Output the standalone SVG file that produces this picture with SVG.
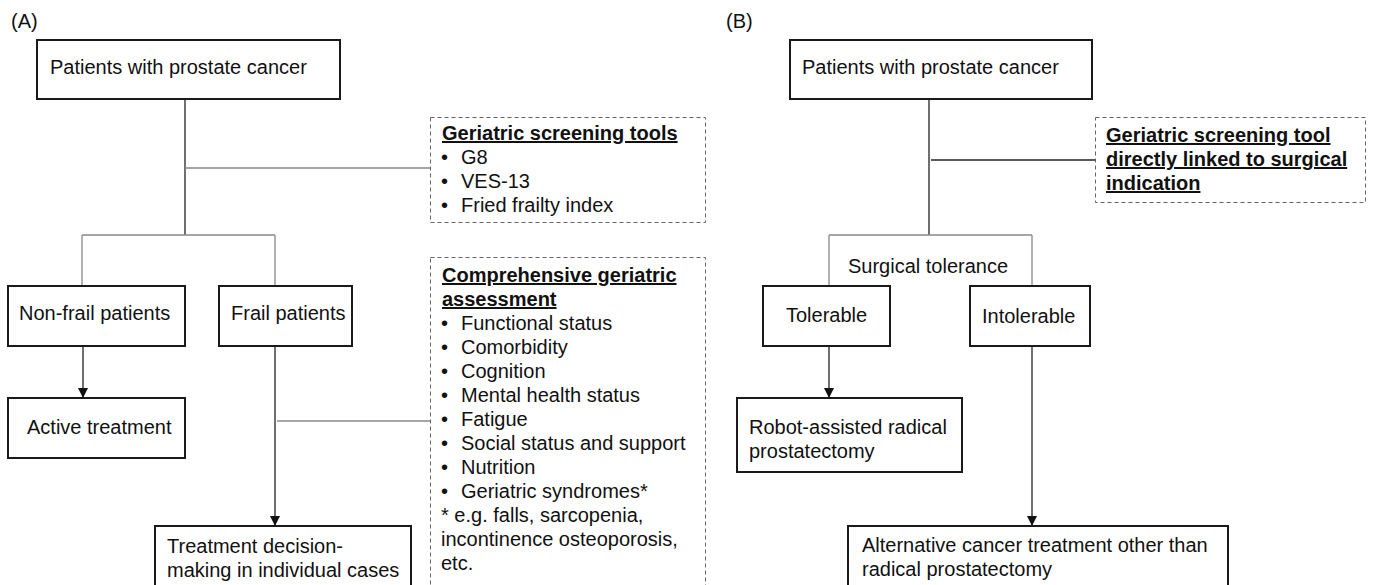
<svg xmlns="http://www.w3.org/2000/svg" width="1373" height="585" viewBox="0 0 1373 585">
<style>
text{font-family:"Liberation Sans",Arial,sans-serif;font-size:20px;fill:#111}
.b{fill:#fff;stroke:#1a1a1a;stroke-width:2}
.d{fill:#fff;stroke:#666;stroke-width:1;stroke-dasharray:4 3}
.c{fill:none;stroke:#222;stroke-width:1.3}
.g{fill:none;stroke:#888;stroke-width:1.3}
.h{font-weight:bold;text-decoration:underline}
</style>
<defs>
<marker id="ah" markerWidth="10" markerHeight="10" refX="9" refY="5" orient="auto" markerUnits="userSpaceOnUse">
<path d="M0,0 L10,5 L0,10 z" fill="#111"/>
</marker>
</defs>
<text x="11" y="28">(A)</text>
<text x="726" y="28">(B)</text>
<g id="connectors">
<path class="c" d="M185,99 V235"/>
<path class="g" d="M185,168 H430"/>
<path class="g" d="M82,235 H275 M82,235 V286 M275,235 V286"/>
<path class="c" d="M83,347 V397" marker-end="url(#ah)"/>
<path class="c" d="M275,347 V525" marker-end="url(#ah)"/>
<path class="g" d="M277,421 H430"/>
<path class="c" d="M929,99 V235"/>
<path class="c" d="M931,160 H1095"/>
<path class="g" d="M829,235 H1032 M829,235 V286 M1032,235 V286"/>
<path class="c" d="M829,347 V397" marker-end="url(#ah)"/>
<path class="c" d="M1032,347 V525" marker-end="url(#ah)"/>
</g>
<g id="a-top"><rect class="b" x="37" y="40" width="303" height="59"/><text x="50" y="74">Patients with prostate cancer</text></g>
<g id="a-screen"><rect class="d" x="430.5" y="117.5" width="275" height="105"/>
<text class="h" x="442" y="140">Geriatric screening tools</text>
<text x="441" y="164">•</text><text x="461" y="164">G8</text>
<text x="441" y="188">•</text><text x="461" y="188">VES-13</text>
<text x="441" y="212">•</text><text x="461" y="212">Fried frailty index</text></g>
<g id="a-nonfrail"><rect class="b" x="8" y="286" width="177" height="60"/><text x="19" y="320">Non-frail patients</text></g>
<g id="a-frail"><rect class="b" x="219" y="286" width="133" height="60"/><text x="231" y="320">Frail patients</text></g>
<g id="a-active"><rect class="b" x="8" y="398" width="177" height="60"/><text x="27" y="434">Active treatment</text></g>
<g id="a-cga"><rect class="d" x="430.5" y="257.5" width="275" height="340"/>
<text class="h" x="442" y="282">Comprehensive geriatric</text>
<text class="h" x="442" y="306">assessment</text>
<text x="441" y="330">•</text><text x="461" y="330">Functional status</text>
<text x="441" y="354">•</text><text x="461" y="354">Comorbidity</text>
<text x="441" y="378">•</text><text x="461" y="378">Cognition</text>
<text x="441" y="402">•</text><text x="461" y="402">Mental health status</text>
<text x="441" y="426">•</text><text x="461" y="426">Fatigue</text>
<text x="441" y="450">•</text><text x="461" y="450">Social status and support</text>
<text x="441" y="474">•</text><text x="461" y="474">Nutrition</text>
<text x="441" y="498">•</text><text x="461" y="498">Geriatric syndromes*</text>
<text x="441" y="522">* e.g. falls, sarcopenia,</text>
<text x="441" y="546">incontinence osteoporosis,</text>
<text x="441" y="570">etc.</text></g>
<g id="a-decision"><rect class="b" x="155" y="526" width="256" height="80"/><text x="167" y="553">Treatment decision-</text><text x="167" y="577">making in individual cases</text></g>
<g id="b-top"><rect class="b" x="790" y="40" width="302" height="59"/><text x="802" y="74">Patients with prostate cancer</text></g>
<g id="b-screen"><rect class="d" x="1095.5" y="117.5" width="270" height="85"/>
<text class="h" x="1106" y="142">Geriatric screening tool</text>
<text class="h" x="1106" y="166">directly linked to surgical</text>
<text class="h" x="1106" y="190">indication</text></g>
<text x="848" y="273">Surgical tolerance</text>
<g id="b-tol"><rect class="b" x="763" y="286" width="127" height="60"/><text x="786" y="322">Tolerable</text></g>
<g id="b-intol"><rect class="b" x="970" y="286" width="120" height="60"/><text x="982" y="323">Intolerable</text></g>
<g id="b-robot"><rect class="b" x="737" y="398" width="225" height="74"/><text x="749" y="434">Robot-assisted radical</text><text x="749" y="458">prostatectomy</text></g>
<g id="b-alt"><rect class="b" x="848" y="526" width="380" height="80"/><text x="862" y="552">Alternative cancer treatment other than</text><text x="862" y="576">radical prostatectomy</text></g>
</svg>
